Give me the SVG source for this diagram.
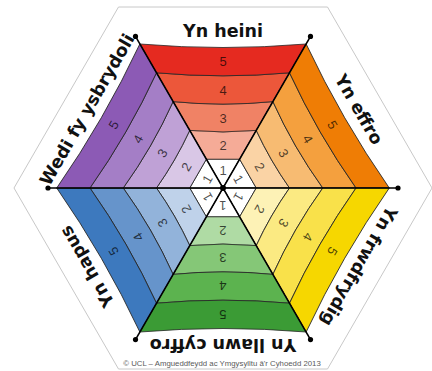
<svg xmlns="http://www.w3.org/2000/svg" xmlns:xlink="http://www.w3.org/1999/xlink" width="432" height="371" viewBox="0 0 432 371">
<style>
.band{stroke:#262626;stroke-width:0.8;stroke-linejoin:round}
.num{font-family:"Liberation Sans",Arial,sans-serif;font-size:13px;fill:#000;fill-opacity:0.7;text-anchor:middle}
.lbl{font-family:"DejaVu Sans",Verdana,sans-serif;font-weight:bold;font-size:17.5px;fill:#111;text-anchor:middle}
.rib{stroke:#000;stroke-width:1.6;fill:none}
.tip{fill:#000}
</style>
<defs>
<path id="b1" d="M-16.63,-28.8 L16.63,-28.8 L0,0 Z"/>
<path id="b2" d="M-33.26,-57.6 Q0,-54.6 33.26,-57.6 L16.63,-28.8 L-16.63,-28.8 Z"/>
<path id="b3" d="M-49.88,-86.4 Q0,-81.4 49.88,-86.4 L33.26,-57.6 Q0,-54.6 -33.26,-57.6 Z"/>
<path id="b4" d="M-66.51,-115.2 Q0,-109.2 66.51,-115.2 L49.88,-86.4 Q0,-81.4 -49.88,-86.4 Z"/>
<path id="b5" d="M-83.14,-144 Q0,-137 83.14,-144 L66.51,-115.2 Q0,-109.2 -66.51,-115.2 Z"/>
</defs>
<rect width="432" height="371" fill="#fff"/>
<polygon points="432,188 327.5,7 118.5,7 14,188 118.5,369 327.5,369" fill="#fff" stroke="#c8c8c8" stroke-width="1"/>

<g id="panel-heini" transform="translate(223 188)">
<use xlink:href="#b1" class="band" fill="#fff"/>
<use xlink:href="#b2" class="band" fill="#f5ab97"/>
<use xlink:href="#b3" class="band" fill="#f08265"/>
<use xlink:href="#b4" class="band" fill="#ec573a"/>
<use xlink:href="#b5" class="band" fill="#e52a20"/>
<g class="num"><text x="0" y="-13.4">1</text><text x="0" y="-37.9">2</text><text x="0" y="-65.4">3</text><text x="0" y="-93.4">4</text><text x="0" y="-121.8">5</text></g>
<text class="lbl" x="0" y="-151">Yn heini</text>
</g>

<g id="panel-effro" transform="translate(223 188) rotate(60)">
<use xlink:href="#b1" class="band" fill="#fff"/>
<use xlink:href="#b2" class="band" fill="#fad3a5"/>
<use xlink:href="#b3" class="band" fill="#f7bb72"/>
<use xlink:href="#b4" class="band" fill="#f4a03e"/>
<use xlink:href="#b5" class="band" fill="#ef7d05"/>
<g class="num"><text x="0" y="-13.4">1</text><text x="0" y="-37.9">2</text><text x="0" y="-65.4">3</text><text x="0" y="-93.4">4</text><text x="0" y="-121.8">5</text></g>
<text class="lbl" x="0" y="-151">Yn effro</text>
</g>

<g id="panel-frwdfrydig" transform="translate(223 188) rotate(120)">
<use xlink:href="#b1" class="band" fill="#fff"/>
<use xlink:href="#b2" class="band" fill="#fdf2b6"/>
<use xlink:href="#b3" class="band" fill="#fbea82"/>
<use xlink:href="#b4" class="band" fill="#f9e14a"/>
<use xlink:href="#b5" class="band" fill="#f6d700"/>
<g class="num"><text x="0" y="-13.4">1</text><text x="0" y="-37.9">2</text><text x="0" y="-65.4">3</text><text x="0" y="-93.4">4</text><text x="0" y="-121.8">5</text></g>
<text class="lbl" x="0" y="-151">Yn frwdfrydig</text>
</g>

<g id="panel-llawn-cyffro" transform="translate(223 188) rotate(180)">
<use xlink:href="#b1" class="band" fill="#fff"/>
<use xlink:href="#b2" class="band" fill="#afdba4"/>
<use xlink:href="#b3" class="band" fill="#85c777"/>
<use xlink:href="#b4" class="band" fill="#5cb34f"/>
<use xlink:href="#b5" class="band" fill="#3b9b35"/>
<g class="num"><text x="0" y="-13.4">1</text><text x="0" y="-37.9">2</text><text x="0" y="-65.4">3</text><text x="0" y="-93.4">4</text><text x="0" y="-121.8">5</text></g>
<text class="lbl" x="0" y="-151">Yn llawn cyffro</text>
</g>

<g id="panel-hapus" transform="translate(223 188) rotate(240)">
<use xlink:href="#b1" class="band" fill="#fff"/>
<use xlink:href="#b2" class="band" fill="#bfd2ea"/>
<use xlink:href="#b3" class="band" fill="#92b3da"/>
<use xlink:href="#b4" class="band" fill="#6694cb"/>
<use xlink:href="#b5" class="band" fill="#3d79be"/>
<g class="num"><text x="0" y="-13.4">1</text><text x="0" y="-37.9">2</text><text x="0" y="-65.4">3</text><text x="0" y="-93.4">4</text><text x="0" y="-121.8">5</text></g>
<text class="lbl" x="0" y="-151">Yn hapus</text>
</g>

<g id="panel-ysbrydoli" transform="translate(223 188) rotate(300)">
<use xlink:href="#b1" class="band" fill="#fff"/>
<use xlink:href="#b2" class="band" fill="#d9c7e6"/>
<use xlink:href="#b3" class="band" fill="#bfa1d6"/>
<use xlink:href="#b4" class="band" fill="#a47ec6"/>
<use xlink:href="#b5" class="band" fill="#8c5ab5"/>
<g class="num"><text x="0" y="-13.4">1</text><text x="0" y="-37.9">2</text><text x="0" y="-65.4">3</text><text x="0" y="-93.4">4</text><text x="0" y="-121.8">5</text></g>
<text class="lbl" x="0" y="-151">Wedi fy ysbrydoli</text>
</g>

<g id="ribs">
<line class="rib" x1="48" y1="188" x2="398" y2="188"/>
<line class="rib" x1="135.5" y1="36.45" x2="310.5" y2="339.55"/>
<line class="rib" x1="310.5" y1="36.45" x2="135.5" y2="339.55"/>
<circle class="tip" cx="223" cy="188" r="3"/>
<circle class="tip" cx="398" cy="188" r="2.6"/>
<circle class="tip" cx="48" cy="188" r="2.6"/>
<circle class="tip" cx="135.5" cy="36.45" r="2.6"/>
<circle class="tip" cx="310.5" cy="36.45" r="2.6"/>
<circle class="tip" cx="135.5" cy="339.55" r="2.6"/>
<circle class="tip" cx="310.5" cy="339.55" r="2.6"/>
</g>

<text x="222" y="366" font-family="Liberation Sans, Arial, sans-serif" font-size="7.8" fill="#5a5a5a" text-anchor="middle">© UCL – Amgueddfeydd ac Ymgysylltu â'r Cyhoedd 2013</text>
</svg>
